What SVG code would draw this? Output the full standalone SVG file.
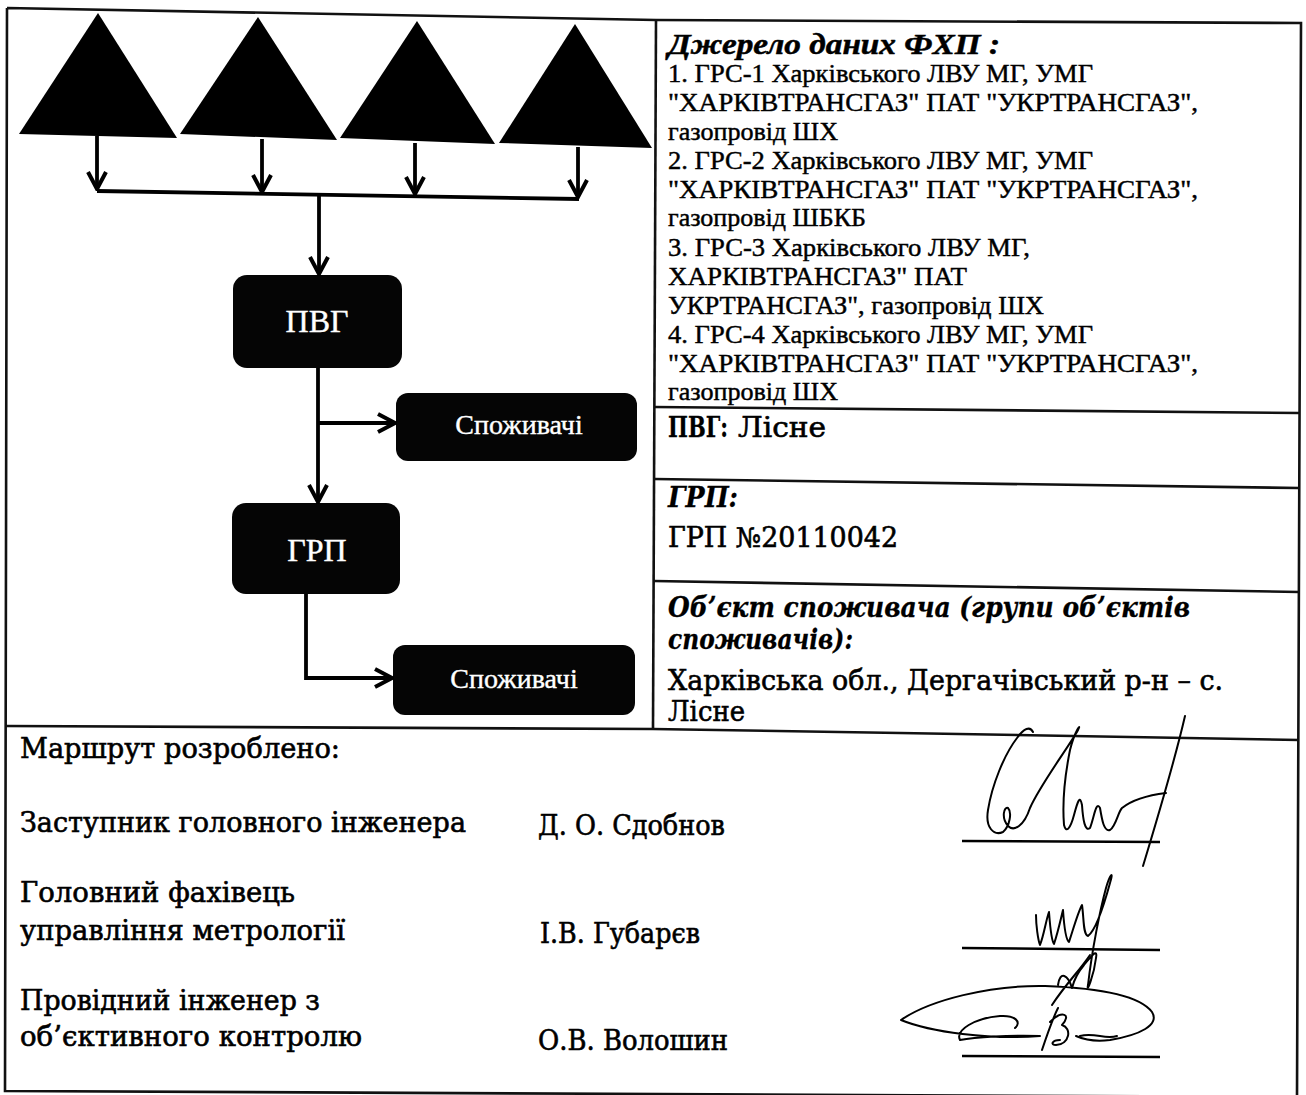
<svg xmlns="http://www.w3.org/2000/svg" width="1306" height="1095" viewBox="0 0 1306 1095">
<defs>
<marker id="arr" markerUnits="userSpaceOnUse" viewBox="0 0 22 22" refX="20" refY="11" markerWidth="22" markerHeight="22" orient="auto">
<path d="M3,2 L20,11 L3,20" fill="none" stroke="#000" stroke-width="4" stroke-linejoin="miter"/>
</marker>
<style>
.frame{fill:none;stroke:#111;stroke-width:2.6}
.conn{fill:none;stroke:#000;stroke-width:3.8}
.box{fill:#050505}
.tri{fill:#000}
.lbl{font-family:"Liberation Serif","Times New Roman",serif;fill:#fff;text-anchor:middle;stroke:#fff;stroke-width:0.4}
.tm{font-family:"Liberation Serif","Times New Roman",serif;font-size:26px;fill:#000;stroke:#000;stroke-width:0.45}
.tmh{font-family:"Liberation Serif","Times New Roman",serif;font-size:30px;font-weight:bold;font-style:italic;fill:#000;stroke:#000;stroke-width:0.5}
.cb{font-family:"DejaVu Serif","Liberation Serif",serif;font-size:27px;fill:#000;stroke:#000;stroke-width:0.6}
.cbb{font-family:"DejaVu Serif","Liberation Serif",serif;font-size:27px;font-weight:bold;fill:#000;stroke:#000;stroke-width:0.3}
.cbi{font-family:"DejaVu Serif","Liberation Serif",serif;font-size:27px;font-weight:bold;font-style:italic;fill:#000;stroke:#000;stroke-width:0.3}
.sig{fill:none;stroke:#000;stroke-width:2;stroke-linecap:round;stroke-linejoin:round}
.sigline{stroke:#000;stroke-width:2.6}
</style>
</defs>
<rect width="1306" height="1095" fill="#fff"/>

<g id="table">
<polyline class="frame" points="7,8 656,20 1301,23 1297,1097 5,1091 7,8"/>
<line class="frame" x1="656" y1="20" x2="653" y2="728"/>
<polyline class="frame" points="6,726 653,729 900,733 1299,740"/>
<line class="frame" x1="654" y1="407" x2="1299" y2="413"/>
<line class="frame" x1="654" y1="479" x2="1299" y2="488"/>
<line class="frame" x1="654" y1="581" x2="1299" y2="592"/>
</g>

<g id="src1"><polygon class="tri" points="98,13 19,134 177,138"/></g>
<g id="src2"><polygon class="tri" points="258,17 180,134 337,140"/></g>
<g id="src3"><polygon class="tri" points="417,21 340,138 495,144"/></g>
<g id="src4"><polygon class="tri" points="575,24 499,143 652,148"/></g>

<g id="pvg"><rect class="box" x="233" y="275" width="169" height="93" rx="14"/><text class="lbl" x="317" y="332" font-size="32">ПВГ</text></g>
<g id="consumers1"><rect class="box" x="396" y="393" width="241" height="68" rx="12"/><text class="lbl" x="519" y="434" font-size="28">Споживачі</text></g>
<g id="grp"><rect class="box" x="232" y="503" width="168" height="91" rx="14"/><text class="lbl" x="317" y="561" font-size="32">ГРП</text></g>
<g id="consumers2"><rect class="box" x="393" y="645" width="242" height="70" rx="12"/><text class="lbl" x="514" y="688" font-size="28">Споживачі</text></g>

<g id="connectors">
<path class="conn" d="M97,136 L97,189" marker-end="url(#arr)"/>
<path class="conn" d="M262,139 L262,192" marker-end="url(#arr)"/>
<path class="conn" d="M415,143 L415,194" marker-end="url(#arr)"/>
<path class="conn" d="M578,147 L578,197" marker-end="url(#arr)"/>
<path class="conn" d="M97,191 L579,199"/>
<path class="conn" d="M319,195 L319,274" marker-end="url(#arr)"/>
<path class="conn" d="M318,368 L318,502" marker-end="url(#arr)"/>
<path class="conn" d="M318,423 L395,423" marker-end="url(#arr)"/>
<path class="conn" d="M306,594 L306,678 L392,678" marker-end="url(#arr)"/>
</g>

<g id="source-info">
<text class="tmh" x="668" y="54" textLength="332" lengthAdjust="spacingAndGlyphs">Джерело даних ФХП :</text>
<text class="tm" x="668" y="82" textLength="425" lengthAdjust="spacingAndGlyphs">1. ГРС-1 Харківського ЛВУ МГ, УМГ</text>
<text class="tm" x="668" y="111" textLength="530" lengthAdjust="spacingAndGlyphs">"ХАРКІВТРАНСГАЗ" ПАТ "УКРТРАНСГАЗ",</text>
<text class="tm" x="668" y="140" textLength="170" lengthAdjust="spacingAndGlyphs">газопровід ШХ</text>
<text class="tm" x="668" y="169" textLength="425" lengthAdjust="spacingAndGlyphs">2. ГРС-2 Харківського ЛВУ МГ, УМГ</text>
<text class="tm" x="668" y="198" textLength="530" lengthAdjust="spacingAndGlyphs">"ХАРКІВТРАНСГАЗ" ПАТ "УКРТРАНСГАЗ",</text>
<text class="tm" x="668" y="226" textLength="198" lengthAdjust="spacingAndGlyphs">газопровід ШБКБ</text>
<text class="tm" x="668" y="256" textLength="362" lengthAdjust="spacingAndGlyphs">3. ГРС-3 Харківського ЛВУ МГ,</text>
<text class="tm" x="668" y="285" textLength="299" lengthAdjust="spacingAndGlyphs">ХАРКІВТРАНСГАЗ" ПАТ</text>
<text class="tm" x="668" y="314" textLength="376" lengthAdjust="spacingAndGlyphs">УКРТРАНСГАЗ", газопровід ШХ</text>
<text class="tm" x="668" y="343" textLength="425" lengthAdjust="spacingAndGlyphs">4. ГРС-4 Харківського ЛВУ МГ, УМГ</text>
<text class="tm" x="668" y="372" textLength="530" lengthAdjust="spacingAndGlyphs">"ХАРКІВТРАНСГАЗ" ПАТ "УКРТРАНСГАЗ",</text>
<text class="tm" x="668" y="400" textLength="170" lengthAdjust="spacingAndGlyphs">газопровід ШХ</text>
</g>

<g id="pvg-info">
<text class="cb" x="668" y="437"><tspan class="cbb" textLength="60" lengthAdjust="spacingAndGlyphs">ПВГ:</tspan><tspan x="738" textLength="88" lengthAdjust="spacingAndGlyphs">Лісне</tspan></text>
</g>
<g id="grp-info">
<text class="cbi" x="668" y="507" textLength="70" lengthAdjust="spacingAndGlyphs">ГРП:</text>
<text class="cb" x="668" y="547" textLength="230" lengthAdjust="spacingAndGlyphs">ГРП №20110042</text>
</g>
<g id="object-info">
<text class="cbi" x="668" y="617" textLength="522" lengthAdjust="spacingAndGlyphs">Об’єкт споживача (групи об’єктів</text>
<text class="cbi" x="668" y="649" textLength="185" lengthAdjust="spacingAndGlyphs">споживачів):</text>
<text class="cb" x="668" y="690" textLength="555" lengthAdjust="spacingAndGlyphs">Харківська обл., Дергачівський р-н –  с.</text>
<text class="cb" x="668" y="721" textLength="77" lengthAdjust="spacingAndGlyphs">Лісне</text>
</g>

<g id="approval">
<text class="cb" x="20" y="758" textLength="320" lengthAdjust="spacingAndGlyphs">Маршрут розроблено:</text>
<text class="cb" x="20" y="832" textLength="446" lengthAdjust="spacingAndGlyphs">Заступник головного інженера</text>
<text class="cb" x="538" y="835" textLength="187" lengthAdjust="spacingAndGlyphs">Д. О. Сдобнов</text>
<text class="cb" x="20" y="902" textLength="275" lengthAdjust="spacingAndGlyphs">Головний фахівець</text>
<text class="cb" x="20" y="940" textLength="325" lengthAdjust="spacingAndGlyphs">управління метрології</text>
<text class="cb" x="540" y="943" textLength="160" lengthAdjust="spacingAndGlyphs">І.В. Губарєв</text>
<text class="cb" x="20" y="1010" textLength="300" lengthAdjust="spacingAndGlyphs">Провідний інженер з</text>
<text class="cb" x="20" y="1046" textLength="342" lengthAdjust="spacingAndGlyphs">об’єктивного контролю</text>
<text class="cb" x="538" y="1050" textLength="190" lengthAdjust="spacingAndGlyphs">О.В. Волошин</text>
</g>

<g id="signatures">
<line class="sigline" x1="962" y1="841" x2="1160" y2="842"/>
<line class="sigline" x1="962" y1="948" x2="1160" y2="950"/>
<line class="sigline" x1="962" y1="1056" x2="1160" y2="1057"/>
<path class="sig" stroke-width="3" d="M1185,716 C1176,755 1160,810 1143,866"/>
<path class="sig" d="M1033,732 C1030,726 1024,728 1017,738 C1004,755 992,785 988,810 C985,828 994,836 1003,832 C1010,826 1012,812 1008,808 C1004,806 1001,818 1008,826 C1014,832 1024,826 1030,808 C1040,785 1070,745 1078,730 C1082,722 1075,730 1070,750 C1066,770 1062,800 1064,825 C1066,833 1070,830 1074,815 C1078,800 1080,795 1082,805 C1083,820 1085,832 1090,828 C1094,818 1096,800 1100,808 C1102,820 1104,832 1110,830 C1116,826 1118,812 1122,808 C1132,800 1150,795 1166,793"/>
<path class="sig" d="M1036,915 C1036,925 1038,940 1040,945 C1044,935 1046,920 1049,912 C1050,925 1051,940 1054,944 C1058,932 1061,918 1063,910 C1064,925 1066,940 1069,942 C1073,930 1078,912 1082,905 C1084,918 1083,935 1088,936 C1096,930 1104,905 1110,883 C1114,870 1110,874 1106,888 C1100,910 1092,950 1088,985 C1086,995 1094,975 1096,958 C1098,948 1092,955 1084,965 C1078,972 1074,980 1072,988 C1068,975 1060,970 1058,985"/>
<path class="sig" d="M901,1020 C930,1000 990,985 1045,986 C1100,988 1140,996 1152,1012 C1160,1025 1140,1035 1110,1040 C1095,1042 1085,1040 1076,1036 M901,1020 C930,1032 990,1040 1040,1036 C1010,1035 975,1037 960,1040 C955,1030 975,1018 1000,1016 C1015,1015 1022,1022 1015,1028 M1058,1008 C1052,1020 1046,1038 1042,1050 M1050,1022 C1062,1010 1072,1014 1062,1025 C1072,1028 1070,1044 1056,1045 C1050,1045 1052,1040 1060,1040 M1080,1036 C1095,1032 1105,1040 1117,1036 M1052,1005 C1065,985 1080,970 1090,955"/>
</g>
</svg>
